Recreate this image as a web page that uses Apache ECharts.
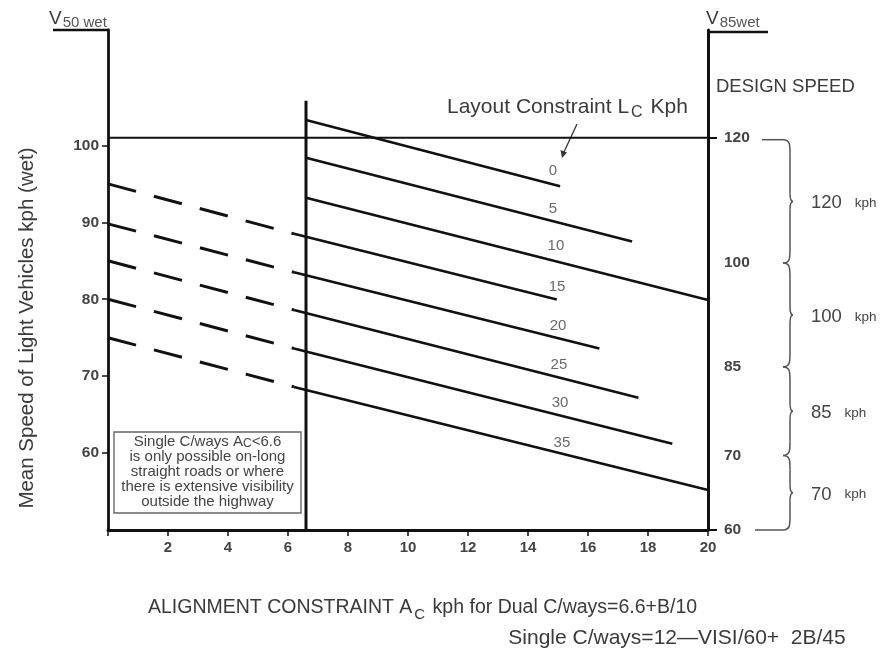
<!DOCTYPE html>
<html><head><meta charset="utf-8">
<script src="https://cdn.jsdelivr.net/npm/echarts@6/dist/echarts.min.js"></script>
<style>html,body{margin:0;padding:0;background:#fff}#c{width:894px;height:650px}</style>
</head><body><div id="c"></div>
<script>
// ---- data ----
const layoutConstraints = [0, 5, 10, 15, 20, 25, 30, 35];
const solidStartX = [6.6, 6.6, 6.6, 6.2, 6.2, 6.2, 6.2, 6.2];
const solidStartY = [103.3, 98.4, 93.2, 88.5, 83.5, 78.6, 73.6, 68.6];
const solidEndX   = [15.07, 17.47, 20, 14.96, 16.38, 17.68, 18.81, 20];
const solidEndY   = [94.7, 87.5, 79.9, 79.96, 73.6, 67.2, 61.2, 55.2];
const dashedStartY = [null, null, null, 95, 89.8, 85, 80, 75]; // value at Ac = 0
const lcLabelX = [14.83, 14.83, 14.93, 14.97, 15.0, 15.03, 15.07, 15.13];
const lcLabelY = [96.75, 91.69, 86.88, 81.56, 76.49, 71.43, 66.49, 61.30];
const dividerX = [6.6, 6.6];
const dividerY = [50, 105.8];
const limitLineX = [0, 20];
const limitLineY = [101, 101];
const xTickValues = [0, 2, 4, 6, 8, 10, 12, 14, 16, 18, 20];
const xLabelValues = [2, 4, 6, 8, 10, 12, 14, 16, 18, 20];
const yTickValues = [60, 70, 80, 90, 100];
const designSpeedLabels = ['120', '100', '85', '70', '60'];
const designSpeedPos = [101, 84.7, 71.2, 59.7, 50];   // position on the V50 scale
const designBands = ['120', '100', '85', '70'];

const FONT = '"Liberation Sans", Arial, Helvetica, sans-serif';
const chart = echarts.init(document.getElementById('c'));

const series = [];
layoutConstraints.forEach((lc, i) => {
  series.push({
    type: 'line', name: 'Lc ' + lc, symbol: 'none', silent: true, z: 3,
    data: [[solidStartX[i], solidStartY[i]], [solidEndX[i], solidEndY[i]]],
    lineStyle: { color: '#111', width: 2.6 }
  });
  if (dashedStartY[i] != null) {
    series.push({
      type: 'line', name: 'Lc ' + lc + ' (dashed)', symbol: 'none', silent: true, z: 3,
      data: [[0, dashedStartY[i]], [solidStartX[i], solidStartY[i]]],
      lineStyle: { color: '#111', width: 3, type: [29, 18.5], cap: 'butt' }
    });
  }
});
series.push({
  type: 'line', name: 'divider', symbol: 'none', silent: true, z: 4,
  data: dividerX.map((x, i) => [x, dividerY[i]]),
  lineStyle: { color: '#111', width: 3 }
});
series.push({
  type: 'line', name: 'limit', symbol: 'none', silent: true, z: 4,
  data: limitLineX.map((x, i) => [x, limitLineY[i]]),
  lineStyle: { color: '#111', width: 2 }
});
series.push({
  type: 'scatter', name: 'labels', silent: true, symbolSize: 0, z: 5,
  itemStyle: { color: 'transparent' },
  data: layoutConstraints.map((lc, i) => [lcLabelX[i], lcLabelY[i], String(lc)]),
  label: { show: true, position: 'inside', formatter: p => p.value[2],
    fontFamily: FONT, fontSize: 15, color: '#444' }
});

const G = { x0: 108, x1: 708, y0: 30, y1: 530 };
function yPix(v) { return G.y1 - (v - 50) * (G.y1 - G.y0) / 65; }

const TXT = '#3a3a3a';
const graphics = [];
// top stubs
graphics.push({ type: 'line', shape: { x1: 53, y1: G.y0, x2: G.x0 + 1, y2: G.y0 }, style: { stroke: '#111', lineWidth: 2.5 } });
graphics.push({ type: 'line', shape: { x1: G.x1 - 1, y1: G.y0 + 2, x2: 768, y2: G.y0 + 2 }, style: { stroke: '#111', lineWidth: 2.5 } });
// V50 wet / V85wet
function vLabel(x, sub) {
  graphics.push({ type: 'text', x: x, y: 7, style: {
    text: '{v|V}{s|' + sub + '}', rich: {
      v: { fontFamily: FONT, fontSize: 19, fill: TXT, verticalAlign: 'top', lineHeight: 24, padding: [2, 0, 0, 0] },
      s: { fontFamily: FONT, fontSize: 15, fill: '#555', verticalAlign: 'top', lineHeight: 24, padding: [8, 0, 0, 1] } } } });
}
vLabel(49, '50 wet');
vLabel(706, '85wet');
// DESIGN SPEED
graphics.push({ type: 'text', x: 716, y: 87, style: { text: 'DESIGN SPEED', fontFamily: FONT, fontSize: 18.5, fill: TXT, verticalAlign: 'middle' } });
// Layout constraint title
graphics.push({ type: 'text', x: 447, y: 109, style: {
  text: '{a|Layout Constraint L}{b|C}{a| Kph}', verticalAlign: 'middle', rich: {
    a: { fontFamily: FONT, fontSize: 21, fill: TXT, lineHeight: 24, verticalAlign: 'top' },
    b: { fontFamily: FONT, fontSize: 16, fill: TXT, lineHeight: 24, verticalAlign: 'top', padding: [8, 2, 0, 2] } } } });
// arrow
graphics.push({ type: 'line', shape: { x1: 577, y1: 124, x2: 564, y2: 152 }, style: { stroke: '#333', lineWidth: 1.3 } });
graphics.push({ type: 'polygon', shape: { points: [[562, 158], [560.5, 150], [567, 152.5]] }, style: { fill: '#333' } });
// note box
graphics.push({ type: 'rect', shape: { x: 114, y: 432, width: 187, height: 81 }, style: { fill: '#fff', stroke: '#666', lineWidth: 1.4 }, z: 10 });
graphics.push({ type: 'text', x: 207.5, y: 434, z: 11, style: {
  text: '{a|Single C/ways A}{b|C}{a|<6.6}\n{a|is only possible on-long}\n{a|straight roads or where}\n{a|there is extensive visibility}\n{a|outside the highway}',
  align: 'center', rich: {
    a: { fontFamily: FONT, fontSize: 15, fill: '#444', lineHeight: 15 },
    b: { fontFamily: FONT, fontSize: 12, fill: '#444', lineHeight: 15, padding: [4, 0, 0, 0] } } } });
// design speed braces
const bx = 783, bw = 7;
const braceStyle = { stroke: '#555', lineWidth: 1.5, fill: null };
for (let i = 0; i < designBands.length; i++) {
  const y1 = yPix(designSpeedPos[i]) + (i === 0 ? 2 : 0), y2 = yPix(designSpeedPos[i + 1]);
  const ym = (y1 + y2) / 2;
  const xs = bx + bw;
  graphics.push({ type: 'bezierCurve', shape: { x1: bx, y1: y1, cpx1: xs, cpy1: y1, cpx2: xs, cpy2: y1 + 5, x2: xs, y2: y1 + 14 }, style: braceStyle });
  graphics.push({ type: 'line', shape: { x1: xs, y1: y1 + 14, x2: xs, y2: ym - 8 }, style: braceStyle });
  graphics.push({ type: 'bezierCurve', shape: { x1: xs, y1: ym - 8, cpx1: xs, cpy1: ym - 2, cpx2: xs + 1, cpy2: ym, x2: xs + 3, y2: ym }, style: braceStyle });
  graphics.push({ type: 'bezierCurve', shape: { x1: xs + 3, y1: ym, cpx1: xs + 1, cpy1: ym, cpx2: xs, cpy2: ym + 2, x2: xs, y2: ym + 8 }, style: braceStyle });
  graphics.push({ type: 'line', shape: { x1: xs, y1: ym + 8, x2: xs, y2: y2 - 14 }, style: braceStyle });
  graphics.push({ type: 'bezierCurve', shape: { x1: xs, y1: y2 - 14, cpx1: xs, cpy1: y2 - 5, cpx2: xs, cpy2: y2, x2: bx, y2: y2 }, style: braceStyle });
  graphics.push({ type: 'text', x: 811, y: ym + 2, style: {
    text: '{n|' + designBands[i] + '}{k|kph}', verticalAlign: 'middle', rich: {
      n: { fontFamily: FONT, fontSize: 18.5, fill: '#444', verticalAlign: 'middle', lineHeight: 22 },
      k: { fontFamily: FONT, fontSize: 13.5, fill: '#444', verticalAlign: 'middle', lineHeight: 22, padding: [0, 0, 0, 13] } } } });
}
graphics.push({ type: 'line', shape: { x1: 762, y1: yPix(designSpeedPos[0]) + 2, x2: bx, y2: yPix(designSpeedPos[0]) + 2 }, style: { stroke: '#555', lineWidth: 1.5 } });
graphics.push({ type: 'line', shape: { x1: 755, y1: yPix(designSpeedPos[4]), x2: bx, y2: yPix(designSpeedPos[4]) }, style: { stroke: '#555', lineWidth: 1.5 } });
// x axis title
graphics.push({ type: 'text', x: 148, y: 610, style: {
  text: '{a|ALIGNMENT CONSTRAINT A}{b|C}{a| kph for Dual C/ways=6.6+B/10}', verticalAlign: 'middle', rich: {
    a: { fontFamily: FONT, fontSize: 19.5, fill: TXT, lineHeight: 24, verticalAlign: 'top' },
    b: { fontFamily: FONT, fontSize: 15, fill: TXT, lineHeight: 24, verticalAlign: 'top', padding: [9, 2, 0, 2] } } } });
graphics.push({ type: 'text', x: 677, y: 638, style: { text: 'Single C/ways=12\u2014VISI/60+  2B/45', align: 'center', verticalAlign: 'middle', fontFamily: FONT, fontSize: 21, fill: TXT } });
// y axis title
graphics.push({ type: 'text', x: 27, y: 328, rotation: Math.PI / 2, style: { text: 'Mean Speed of Light Vehicles kph (wet)', align: 'center', verticalAlign: 'middle', fontFamily: FONT, fontSize: 20.5, fill: TXT } });

const axisLineStyle = { color: '#111', width: 2.8 };
const option = {
  animation: false,
  backgroundColor: '#fff',
  grid: { left: G.x0, right: 894 - G.x1, top: G.y0, bottom: 650 - G.y1 },
  xAxis: {
    type: 'value', min: 0, max: 20, interval: 2,
    splitLine: { show: false },
    axisLine: { show: true, onZero: false, lineStyle: axisLineStyle },
    axisTick: { show: true, customValues: xTickValues, length: 6, lineStyle: { color: '#111', width: 1.5 } },
    axisLabel: { customValues: xLabelValues, margin: 10, fontFamily: FONT, fontSize: 15, fontWeight: 'bold', color: '#444' }
  },
  yAxis: [{
    type: 'value', min: 50, max: 115, interval: 10, position: 'left',
    splitLine: { show: false },
    axisLine: { show: true, onZero: false, lineStyle: axisLineStyle },
    axisTick: { show: true, customValues: yTickValues, length: 6, lineStyle: { color: '#111', width: 1.5 } },
    axisLabel: { customValues: yTickValues, margin: 9, fontFamily: FONT, fontSize: 15.5, fontWeight: 'bold', color: '#444' }
  }, {
    type: 'value', min: 50, max: 115, position: 'right',
    splitLine: { show: false },
    axisLine: { show: true, onZero: false, lineStyle: { color: '#111', width: 3 } },
    axisTick: { show: true, customValues: [designSpeedPos[0], designSpeedPos[4]], length: 9, lineStyle: { color: '#111', width: 2 } },
    axisLabel: { customValues: designSpeedPos, margin: 16, fontFamily: FONT, fontSize: 15.5, fontWeight: 'bold', color: '#444',
      formatter: v => { const k = designSpeedPos.findIndex(p => Math.abs(p - v) < 1e-6); return k >= 0 ? designSpeedLabels[k] : ''; } }
  }],
  series: series,
  graphic: graphics
};
chart.setOption(option);
</script>
</body></html>
